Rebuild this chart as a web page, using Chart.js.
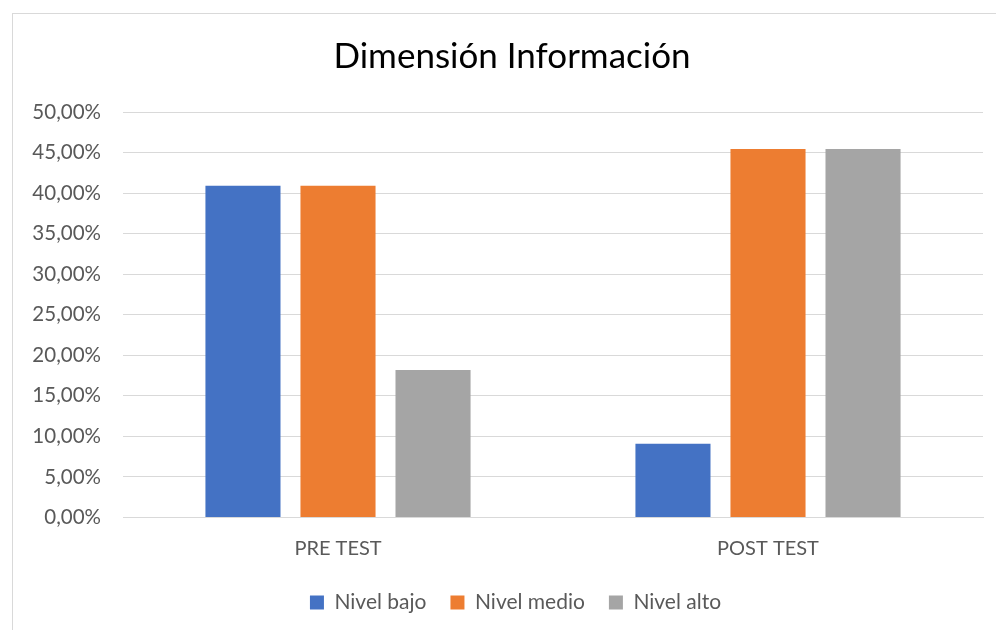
<!DOCTYPE html>
<html>
<head>
<meta charset="utf-8">
<script src="https://cdn.jsdelivr.net/npm/chart.js@4/dist/chart.umd.min.js"></script>
<style>
  html, body { margin: 0; padding: 0; background: #ffffff; }
  #wrap { position: relative; width: 996px; height: 630px; overflow: hidden; }
  #frame { position: absolute; left: 12px; top: 13px; width: 1100px; height: 700px; border: 1px solid #d9d9d9; box-sizing: border-box; }
  canvas { position: absolute; left: 0; top: 0; }
</style>
</head>
<body>
<div id="wrap">
  <div id="frame"></div>
  <canvas id="c" width="996" height="630"></canvas>
</div>
<script>
const categories = ["PRE TEST", "POST TEST"];
const seriesNames = ["Nivel bajo", "Nivel medio", "Nivel alto"];
const nivelBajo = [0.4091, 0.0909];
const nivelMedio = [0.4091, 0.4545];
const nivelAlto = [0.1818, 0.4545];
const colors = ["#4472c4", "#ed7d31", "#a5a5a5"];
const FONT = "Lato, 'Open Sans', sans-serif";

// centre title and legend on the outer frame rather than the canvas
const blockShift = {
  id: 'blockShift',
  afterLayout(chart) {
    if (chart.titleBlock) { chart.titleBlock.left += 41; }
    if (chart.legend) { chart.legend.left += 48; }
  }
};

new Chart(document.getElementById('c'), {
  type: 'bar',
  data: {
    labels: categories,
    datasets: [
      { label: seriesNames[0], data: nivelBajo, backgroundColor: colors[0] },
      { label: seriesNames[1], data: nivelMedio, backgroundColor: colors[1] },
      { label: seriesNames[2], data: nivelAlto, backgroundColor: colors[2] }
    ]
  },
  plugins: [blockShift],
  options: {
    responsive: false,
    animation: false,
    devicePixelRatio: 1,
    categoryPercentage: 0.663,
    barPercentage: 0.79,
    layout: { padding: { left: 0, right: 13, top: 36, bottom: 7 } },
    plugins: {
      title: {
        display: true,
        text: 'Dimensión Información',
        color: '#000000',
        font: { family: FONT, size: 35, weight: 'normal' },
        padding: { top: 0, bottom: 34 }
      },
      legend: {
        position: 'bottom',
        labels: {
          color: '#595959',
          font: { family: FONT, size: 21 },
          boxWidth: 14, boxHeight: 14,
          padding: 24
        }
      },
      tooltip: { enabled: false }
    },
    scales: {
      x: {
        afterFit: (s) => { s.height = 50.5; },
        grid: { display: false, drawTicks: false },
        border: { display: true, color: '#d9d9d9', width: 1 },
        ticks: { color: '#595959', font: { family: FONT, size: 20 }, padding: 19 }
      },
      y: {
        min: 0, max: 0.5,
        afterFit: (s) => { s.width = 123; },
        grid: { color: '#d9d9d9', lineWidth: 1, drawTicks: false },
        border: { display: false },
        ticks: {
          stepSize: 0.05,
          color: '#595959',
          font: { family: FONT, size: 20.5 },
          padding: 22,
          callback: (v) => (v * 100).toFixed(2).replace('.', ',') + '%'
        }
      }
    }
  }
});
</script>
</body>
</html>
